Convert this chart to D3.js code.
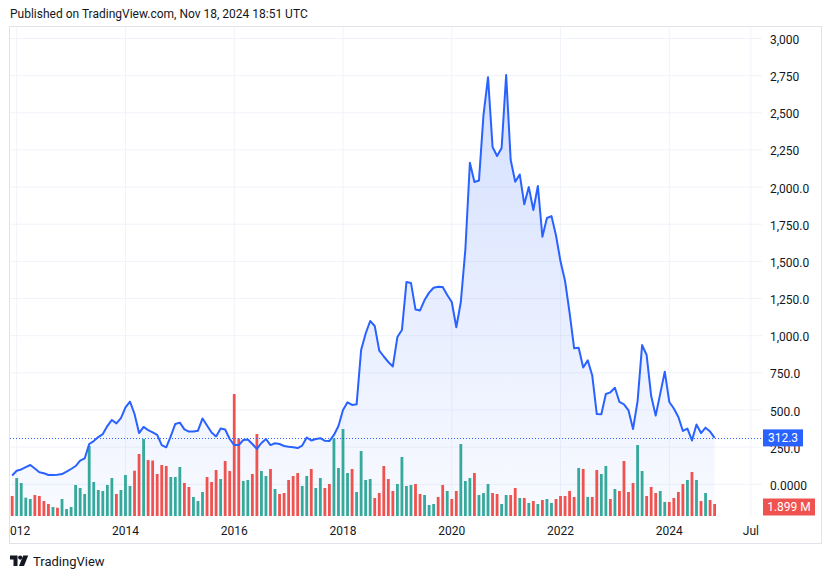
<!DOCTYPE html>
<html><head><meta charset="utf-8">
<script src="https://cdn.jsdelivr.net/npm/d3@7"></script>
<style>
body{margin:0;background:#fff;}
text{font-family:Roboto,"Noto Sans",sans-serif;}
</style>
</head><body>
<svg id="chart" width="830" height="579"></svg>
<script>
// ---- data ----
const firstMonth = "2011-12";
const lastMonth = "2024-11";
const closes = [59,
 91,100,116,130,106,81,74,63,63,65,
 69,85,103,123,159,174,271,291,318,338,
 392,433,410,446,517,556,473,345,386,365,
 349,332,264,249,325,406,415,370,355,355,
 361,443,396,349,322,376,369,305,264,264,
 298,301,271,238,278,305,264,276,271,258,
 253,250,244,261,315,295,305,310,293,291,
 332,392,500,552,534,538,904,1015,1099,1065,
 900,860,823,793,991,1038,1361,1355,1176,1170,
 1240,1290,1323,1330,1328,1274,1227,1057,1227,1580,
 2164,2034,2044,2485,2740,2270,2209,2263,2754,2182,
 2036,2085,1884,2000,1846,2007,1666,1792,1805,1674,
 1499,1368,1153,915,919,786,834,732,473,471,
 608,619,650,554,538,497,372,560,937,870,
 594,462,610,758,554,510,453,359,375,295,
 402,345,381,355,312.3];
const volumesM = [3.16,
 6.01,5.22,2.90,2.69,3.32,3.16,2.37,1.90,1.42,1.31,
 2.69,1.11,1.42,4.91,4.43,3.48,11.08,5.38,4.11,3.96,
 4.91,6.01,3.48,4.11,6.49,4.75,7.17,9.81,12.18,8.86,
 8.78,6.65,8.07,7.91,6.17,6.17,7.75,5.22,4.59,3.01,
 2.37,3.80,6.17,5.38,7.28,5.85,8.70,7.12,19.30,12.29,
 5.54,5.70,6.65,12.97,7.12,6.33,7.44,4.27,3.48,3.64,
 5.70,6.33,6.80,4.75,6.33,7.44,4.43,6.01,4.43,5.06,
 12.29,7.59,13.77,6.80,7.44,3.80,10.28,5.70,5.85,2.85,
 3.64,7.91,5.85,3.96,5.06,9.34,4.75,4.91,5.06,3.48,
 3.32,1.74,1.90,3.01,4.91,3.96,2.69,3.96,11.39,5.54,
 6.01,6.80,3.32,3.64,5.06,3.64,3.48,1.90,3.32,3.32,
 4.43,2.85,2.85,2.06,2.37,1.90,2.53,2.69,2.06,2.69,
 3.16,3.16,3.96,3.01,7.59,7.44,3.01,3.01,7.28,6.65,
 7.91,2.69,4.27,3.96,8.70,3.80,5.22,11.23,7.12,3.16,
 4.59,3.64,3.96,2.22,2.22,2.85,3.80,5.06,5.70,6.96,
 5.70,2.37,3.64,2.53,1.899];
// u = up month (teal volume), d = down month (red volume)
const volumeDirection = ("duuuuddddud" + "uuuuuuuuuu" + "uuduuuddud" + "dddduuuddu" +
  "uudddudddd" + "uudduududd" + "ddduuduudd" + "uuuuduuuud" + "dddduuuudd" +
  "uuuddudduu" + "uduuudduud" + "dudududuud" + "ddddududdu" + "ududddduud" +
  "dduuddddud" + "ududd").split("");
const priceTicks = [0,250,500,750,1000,1250,1500,1750,2000,2250,2500,2750,3000];
const priceTickLabels = ["0.0000","250.0","500.0","750.0","1,000.0","1,250.0","1,500.0","1,750.0","2,000.0","2,250","2,500","2,750","3,000"];
const timeTicks = ["2012-01","2014-01","2016-01","2018-01","2020-01","2022-01","2024-01","2025-07"];
const timeTickLabels = ["2012","2014","2016","2018","2020","2022","2024","Jul"];
const lastPriceLabel = "312.3";
const lastVolumeLabel = "1.899 M";
const titleText = "Published on TradingView.com, Nov 18, 2024 18:51 UTC";

// ---- helpers ----
const parseMonth = d3.utcParse("%Y-%m");
const base = parseMonth("2012-01");
const monthIdx = d => d3.utcMonth.count(base, d);
const months = d3.utcMonth.range(parseMonth(firstMonth), d3.utcMonth.offset(parseMonth(lastMonth), 1));
const data = months.map((m, i) => ({m: monthIdx(m), close: closes[i], vol: volumesM[i], dir: volumeDirection[i]}));

const svg = d3.select("#chart");
const L = 10, R = 762, T = 27, B = 516;

const x = d3.scaleLinear().domain([0, 144]).range([16.7, 669.3]);
const y = d3.scaleLinear().domain([0, 3000]).range([484.3, 38.5]);
const yv = d3.scaleLinear().domain([0, 20]).range([B, B - 20 * 6.32]);

const defs = svg.append("defs");
defs.append("clipPath").attr("id", "plotclip").append("rect")
  .attr("x", L).attr("y", T).attr("width", R - L).attr("height", B - T);
defs.append("clipPath").attr("id", "timeclip").append("rect")
  .attr("x", L).attr("y", B).attr("width", R - L).attr("height", 27);
const grad = defs.append("linearGradient").attr("id", "areagrad")
  .attr("gradientUnits", "userSpaceOnUse").attr("x1", 0).attr("x2", 0).attr("y1", 70).attr("y2", B);
grad.append("stop").attr("offset", 0).attr("stop-color", "#2962FF").attr("stop-opacity", 0.2);
grad.append("stop").attr("offset", 1).attr("stop-color", "#2962FF").attr("stop-opacity", 0.03);

// title
svg.append("text").attr("x", 10).attr("y", 14).attr("dominant-baseline", "central")
  .attr("font-size", 12).attr("fill", "#131722").text(titleText);

// frame
svg.append("rect").attr("x", 9.5).attr("y", 26.5).attr("width", 812).attr("height", 517)
  .attr("fill", "none").attr("stroke", "#e0e3eb");

const plot = svg.append("g").attr("clip-path", "url(#plotclip)");

// grid
plot.selectAll(".hg").data(priceTicks).join("line")
  .attr("x1", L).attr("x2", R).attr("y1", d => y(d)).attr("y2", d => y(d))
  .attr("stroke", "#f0f3fa").attr("stroke-width", 1);
plot.selectAll(".vg").data(timeTicks).join("line")
  .attr("x1", d => x(monthIdx(parseMonth(d)))).attr("x2", d => x(monthIdx(parseMonth(d))))
  .attr("y1", T).attr("y2", B).attr("stroke", "#f0f3fa").attr("stroke-width", 1);

// area + line
plot.append("path").datum(data)
  .attr("d", d3.area().x(d => x(d.m)).y0(B).y1(d => y(d.close)))
  .attr("fill", "url(#areagrad)");

// volume bars
const bw = 2.8;
plot.selectAll(".vb").data(data).join("rect")
  .attr("x", d => x(d.m) - bw / 2).attr("width", bw)
  .attr("y", d => yv(d.vol)).attr("height", d => B - yv(d.vol))
  .attr("fill", d => d.dir === "u" ? "#35a99c" : "#ef5350");

plot.append("path").datum(data)
  .attr("d", d3.line().x(d => x(d.m)).y(d => y(d.close)))
  .attr("fill", "none").attr("stroke", "#2962FF").attr("stroke-width", 2)
  .attr("stroke-linejoin", "round");

// last price dotted line
const lastClose = closes[closes.length - 1];
plot.append("line").attr("x1", L).attr("x2", R)
  .attr("y1", Math.round(y(lastClose)) + 0.5).attr("y2", Math.round(y(lastClose)) + 0.5)
  .attr("stroke", "#2962FF").attr("stroke-width", 1).attr("stroke-dasharray", "1,2");

// price axis labels
svg.selectAll(".pl").data(priceTicks).join("text")
  .attr("x", 770).attr("y", d => y(d) + 1.5).attr("dominant-baseline", "central")
  .attr("font-size", 12).attr("fill", "#131722")
  .text((d, i) => priceTickLabels[i]);

// last price label
const ly = y(lastClose);
svg.append("rect").attr("x", 763).attr("y", ly - 8.5).attr("width", 40).attr("height", 17)
  .attr("fill", "#2962FF");
svg.append("text").attr("x", 783).attr("y", ly + 0.5).attr("text-anchor", "middle")
  .attr("dominant-baseline", "central").attr("font-size", 12).attr("fill", "#fff").text(lastPriceLabel);

// last volume label
const lastVol = volumesM[volumesM.length - 1];
const vy = yv(lastVol) + 3;
svg.append("rect").attr("x", 763).attr("y", vy - 8.5).attr("width", 52).attr("height", 17)
  .attr("fill", "#ef5350");
svg.append("text").attr("x", 789).attr("y", vy + 0.5).attr("text-anchor", "middle")
  .attr("dominant-baseline", "central").attr("font-size", 12).attr("fill", "#fff").text(lastVolumeLabel);

// time axis labels
svg.append("g").attr("clip-path", "url(#timeclip)")
  .selectAll("text").data(timeTicks).join("text")
  .attr("x", d => x(monthIdx(parseMonth(d)))).attr("y", 531)
  .attr("text-anchor", "middle").attr("dominant-baseline", "central")
  .attr("font-size", 12).attr("fill", "#131722")
  .text((d, i) => timeTickLabels[i]);

// TradingView logo
const logo = svg.append("g").attr("fill", "#131722");
logo.append("path").attr("d", "M10,555.5 H17.5 V566 H13.5 V559.5 H10 Z");
logo.append("circle").attr("cx", 20.2).attr("cy", 557.6).attr("r", 2.1);
logo.append("path").attr("d", "M23.2,555.5 H28.2 L24,566 H19 Z");
svg.append("text").attr("x", 33).attr("y", 561).attr("dominant-baseline", "central")
  .attr("font-size", 13).attr("fill", "#131722").text("TradingView");
</script>
</body></html>
